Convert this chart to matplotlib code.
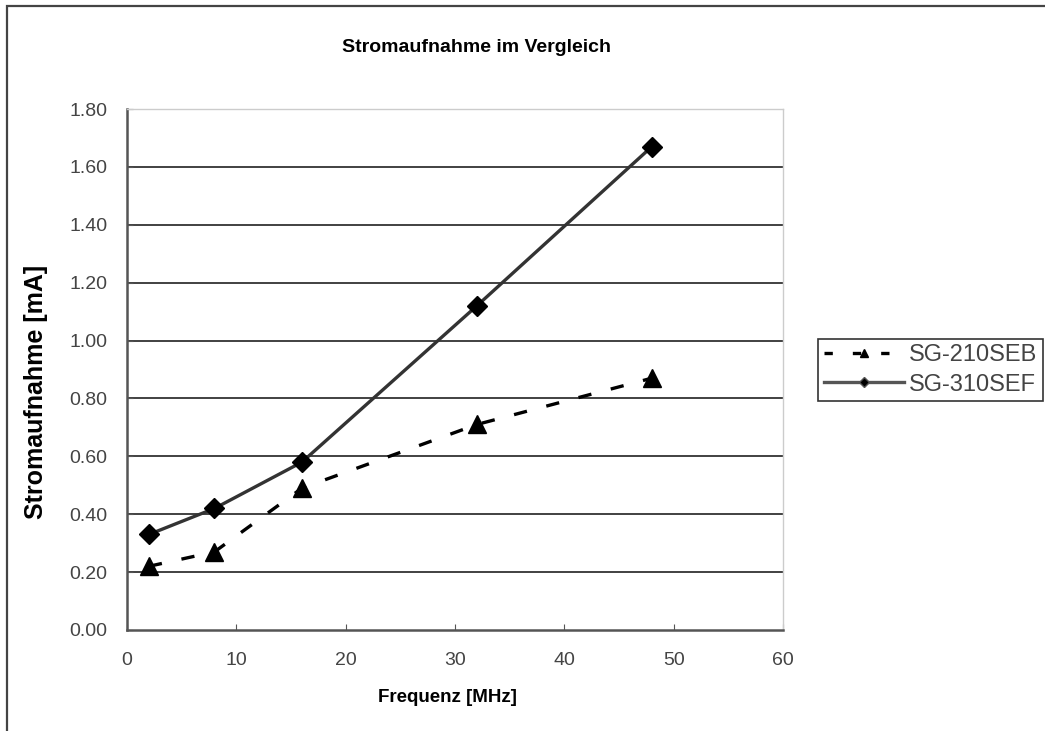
import matplotlib
matplotlib.use("Agg")
import matplotlib.pyplot as plt
from matplotlib.patches import Rectangle
from matplotlib.lines import Line2D

# values
freq = [2, 8, 16, 32, 48]
seb_210 = [0.22, 0.27, 0.49, 0.71, 0.87]
sef_310 = [0.33, 0.42, 0.58, 1.12, 1.67]
labels = ["SG-210SEB", "SG-310SEF"]
yticks = [0.0, 0.2, 0.4, 0.6, 0.8, 1.0, 1.2, 1.4, 1.6, 1.8]
xticks = [0, 10, 20, 30, 40, 50, 60]

plt.rcParams["font.family"] = ["Liberation Sans", "DejaVu Sans"]

fig = plt.figure(figsize=(10.45, 7.31), dpi=100, facecolor="white")

# outer chart frame (left + top edges visible, others run off the image)
fig.patches.append(Rectangle((7 / 1045, -0.01), 1.1, 1 - 6 / 731 + 0.01,
                             transform=fig.transFigure, fill=False,
                             edgecolor="#444444", linewidth=1.6))

ax = fig.add_axes([127 / 1045, 1 - 630 / 731, (783 - 127) / 1045, (630 - 109) / 731])
ax.set_xlim(0, 60)
ax.set_ylim(0, 1.8)

ax.plot(freq, seb_210, color="black", linewidth=2.4, dashes=(4, 6),
        marker="^", markersize=13, markeredgecolor="black",
        markerfacecolor="black")
ax.plot(freq, sef_310, color="#333333", linewidth=2.4,
        marker="D", markersize=10, markeredgecolor="black",
        markerfacecolor="black")

# horizontal gridlines (not at the top, the border covers that)
for v in yticks[1:-1]:
    ax.axhline(v, color="#333333", linewidth=1.3, zorder=0)

ax.set_xticks(xticks)
ax.set_yticks(yticks)
ax.set_yticklabels(["%.2f" % v for v in yticks])
ax.tick_params(direction="in", length=4, color="#555555", labelcolor="#444444")
ax.tick_params(axis="y", labelsize=14, pad=14)
ax.tick_params(axis="x", labelsize=14, pad=16)

for side in ("top", "right"):
    ax.spines[side].set_color("#cccccc")
    ax.spines[side].set_linewidth(1.0)
for side in ("left", "bottom"):
    ax.spines[side].set_color("#555555")
    ax.spines[side].set_linewidth(1.8)

fig.text(477 / 1045, 1 - 47 / 731, "Stromaufnahme im Vergleich",
         ha="center", va="center", fontsize=14, fontweight="bold")
fig.text(447 / 1045, 1 - 697 / 731, "Frequenz [MHz]",
         ha="center", va="center", fontsize=13.5, fontweight="bold")
fig.text(36 / 1045, 1 - 392 / 731, "Stromaufnahme [mA]", rotation=90,
         ha="center", va="center", fontsize=18, fontweight="bold")

# legend handles: small markers on the line, like the original
handles = [
    Line2D([], [], color="black", linewidth=2.4, dashes=(2.5, 6),
           marker="^", markersize=6, markerfacecolor="black"),
    Line2D([], [], color="#555555", linewidth=2.4,
           marker="D", markersize=5, markerfacecolor="black"),
]
leg = fig.legend(handles, labels, loc="center left",
                 bbox_to_anchor=(818 / 1045, 1 - 370 / 731),
                 frameon=True, fancybox=False, edgecolor="black",
                 fontsize=17, handlelength=3.4, handletextpad=0.2,
                 borderpad=0.25, labelspacing=0.3, borderaxespad=0)
leg.get_frame().set_linewidth(1.2)
for t in leg.get_texts():
    t.set_color("#444444")

fig.savefig("out.png", dpi=100, facecolor="white")
